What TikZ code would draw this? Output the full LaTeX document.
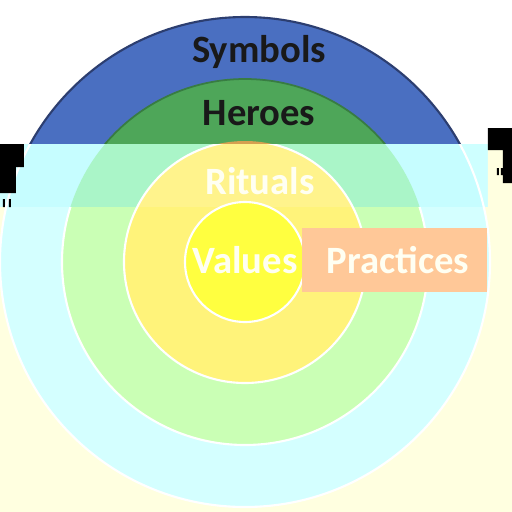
\documentclass[tikz,border=0pt]{standalone}
\usepackage{fontspec}
\setmainfont{Carlito}
\usetikzlibrary{positioning,calc}
\definecolor{symblue}{RGB}{74,111,193}
\definecolor{symline}{RGB}{44,62,112}
\definecolor{herogreen}{RGB}{78,166,89}
\definecolor{heroline}{RGB}{56,124,66}
\definecolor{ritorange}{RGB}{214,160,80}
\definecolor{stripbg}{RGB}{206,255,255}
\definecolor{stripblue}{RGB}{198,253,255}
\definecolor{stripgreen}{RGB}{170,245,200}
\definecolor{stripyellow}{RGB}{255,243,140}
\definecolor{lowbg}{RGB}{255,255,224}
\definecolor{lowblue}{RGB}{212,255,255}
\definecolor{lowgreen}{RGB}{202,255,181}
\definecolor{lowyellow}{RGB}{255,243,122}
\definecolor{valyellow}{RGB}{255,255,64}
\definecolor{peach}{RGB}{255,200,152}
\definecolor{paletext}{RGB}{255,255,242}

\begin{document}
\begin{tikzpicture}[x=0.02cm,y=-0.02cm,
    lbl/.style={font=\fontsize{22}{26}\selectfont\bfseries,inner sep=0pt,anchor=base},
    palering/.style={draw=white,line width=1.2pt}]
  \useasboundingbox (0,0) rectangle (512,512);
  \coordinate (c) at (245,262);
  % upper part, true colours
  \begin{scope}
    \clip (0,0) rectangle (512,144);
    \fill[white] (0,0) rectangle (512,144);
    \fill[black!22] ($(c)+(3,3)$) circle (245);
    \filldraw[fill=symblue,draw=symline,line width=1.2pt] (c) circle (245);
    \filldraw[fill=herogreen,draw=heroline,line width=1pt] (c) circle (183);
    \fill[ritorange] (c) circle (121);
  \end{scope}
  % washed band
  \begin{scope}
    \clip (0,144) rectangle (488,207);
    \fill[stripbg] (0,144) rectangle (488,207);
    \filldraw[fill=stripblue,palering] (c) circle (245);
    \fill[stripgreen] (c) circle (183);
    \filldraw[fill=stripyellow,palering] (c) circle (121);
    \filldraw[fill=valyellow,palering] (c) circle (60);
  \end{scope}
  % lower part
  \begin{scope}
    \clip (0,207) rectangle (512,512) (488,144) rectangle (512,207);
    \fill[lowbg] (0,144) rectangle (512,512);
    \filldraw[fill=lowblue,palering] (c) circle (245);
    \filldraw[fill=lowgreen,palering] (c) circle (183);
    \filldraw[fill=lowyellow,palering] (c) circle (121);
    \filldraw[fill=valyellow,palering] (c) circle (60);
  \end{scope}
  % black marks at the band ends
  \fill[black] (0,144) rectangle (24,167) (0,167) rectangle (16,193)
    (3,199) rectangle (5,207) (9,199) rectangle (11,207);
  \fill[black] (488,128) rectangle (512,150) (503,150) rectangle (512,183)
    (497,168) rectangle (499,175) (501,168) rectangle (503,175);
  % labels
  \node[lbl,text=black!90] (symbols) at (259,62) {Symbols};
  \node[lbl,text=black!90] (heroes) at (259,125) {Heroes};
  \node[lbl,text=paletext] (rituals) at (260,194) {Rituals};
  \node[lbl,text=paletext] (values) at (245,273) {Values};
  \node[fill=peach,minimum width=3.7cm,minimum height=1.28cm,inner sep=0pt]
    (practicebox) at (394.5,260) {};
  \node[lbl,text=paletext] (practices) at (398,273) {Practices};
\end{tikzpicture}
\end{document}
